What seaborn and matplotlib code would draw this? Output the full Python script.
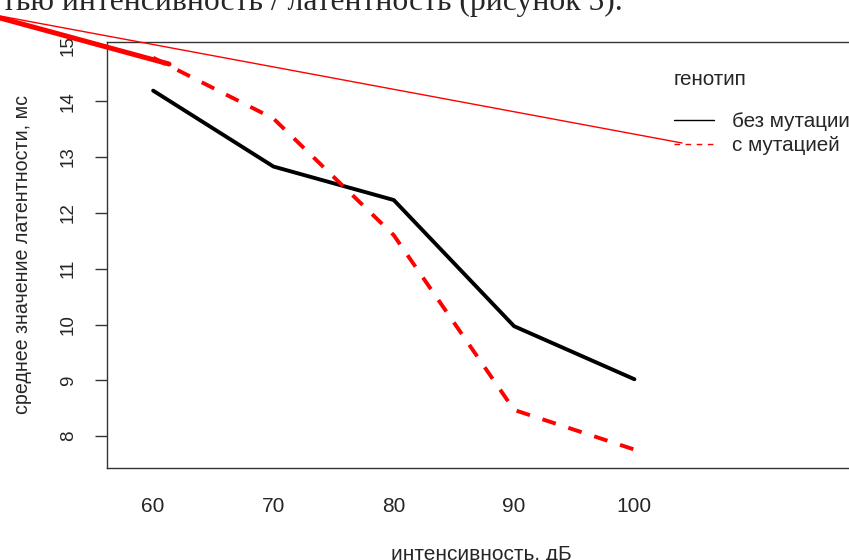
import pandas as pd
import matplotlib
matplotlib.use("Agg")
from matplotlib import pyplot as plt
from matplotlib.lines import Line2D
import seaborn as sns

# values
intensity = [60, 70, 80, 90, 100]
no_mutation = [14.19, 12.83, 12.23, 9.97, 9.02]
with_mutation = [14.78, 13.69, 11.60, 8.47, 7.76]
y_ticks = [8, 9, 10, 11, 12, 13, 14, 15]
genotypes = ['без мутации', 'с мутацией']

data = pd.DataFrame({
    'intensity': intensity * 2,
    'latency': no_mutation + with_mutation,
    'genotype': [genotypes[0]] * 5 + [genotypes[1]] * 5,
})

sns.set_style("white")
plt.rcParams['font.family'] = ['Liberation Sans', 'DejaVu Sans']

W, H = 849, 560
fig = plt.figure(figsize=(W / 100, H / 100), dpi=100)
# plot box runs just past the right edge of the picture (cropped screenshot)
ax_left, ax_right, ax_top, ax_bottom = 106.7, 857, 41.5, 468
ax = fig.add_axes([ax_left / W, (H - ax_bottom) / H,
                   (ax_right - ax_left) / W, (ax_bottom - ax_top) / H])

sns.lineplot(data=data, x='intensity', y='latency', hue='genotype',
             style='genotype', ax=ax, legend=False, linewidth=2.8,
             palette={genotypes[0]: 'black', genotypes[1]: 'red'},
             dashes={genotypes[0]: '', genotypes[1]: (3.6, 3.4)})

ax.set_xlim(56.14, 118.5)
ax.set_ylim(7.43, 15.07)
ax.set_xticks(intensity)
ax.set_xticklabels([str(v) for v in intensity], fontsize=15)
ax.set_yticks(y_ticks)
ax.set_yticklabels([str(v) for v in y_ticks], fontsize=13.5,
                   rotation=90, va='center')
ax.tick_params(axis='x', length=0, pad=21)
ax.tick_params(axis='y', length=8.6, width=1, color='#333333',
               pad=13, left=True)
for side in ['left', 'bottom', 'top', 'right']:
    ax.spines[side].set_color('#333333')
    ax.spines[side].set_linewidth(1)

ax_w = ax_right - ax_left
ax.set_xlabel('интенсивность, дБ', fontsize=15)
ax.xaxis.set_label_coords(0.5, (ax_bottom - 555) / (ax_bottom - ax_top))
ax.xaxis.label.set_va('center')
ax.set_ylabel('среднее значение латентности, мс', fontsize=14.1)
ax.yaxis.set_label_coords((22.6 - ax_left) / ax_w, 0.5)
ax.yaxis.label.set_va('center')

# legend in R style (thin sample lines)
handles = [Line2D([], [], color='black', lw=1),
           Line2D([], [], color='red', lw=1, dashes=(4, 4))]
le = ax.legend(handles, genotypes, title='генотип\n', frameon=False,
               fontsize=14.9, title_fontsize=14.9, handlelength=1.93,
               handletextpad=0.9, labelspacing=0.25, alignment='left',
               loc='upper left')
le.get_title().set_linespacing(0.95)
le.set_bbox_to_anchor((655 / W, (H - 51) / H), transform=fig.transFigure)

# red pointer lines drawn over the screenshot
ax.annotate('', xy=(169, H - 64), xytext=(0, H - 18),
            xycoords='figure pixels', textcoords='figure pixels',
            arrowprops=dict(arrowstyle='-', color='red', lw=3.6,
                            shrinkA=0, shrinkB=0))
ax.annotate('', xy=(682, H - 143), xytext=(0, H - 16),
            xycoords='figure pixels', textcoords='figure pixels',
            arrowprops=dict(arrowstyle='-', color='red', lw=1.0,
                            shrinkA=0, shrinkB=0))

# caption text of the document, cut at the top
fig.text(2 / W, 1 - 10 / H, 'тью интенсивность / латентность (рисунок 5).',
         family='Liberation Serif', fontsize=22.8, va='baseline', ha='left')

plt.savefig('out.png', dpi=100)
